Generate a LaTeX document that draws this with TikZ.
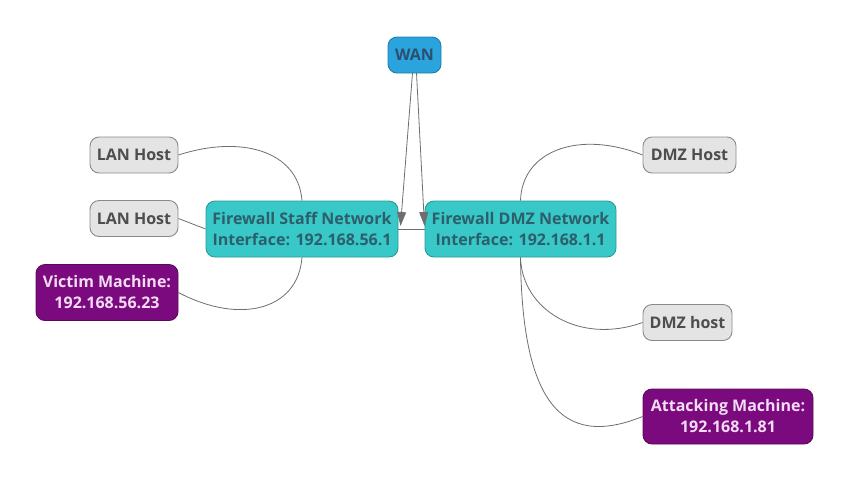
\documentclass[tikz,border=0pt]{standalone}
\usepackage{fontspec}
\setmainfont{Open Sans}[BoldFont={Open Sans Bold}]
\usetikzlibrary{arrows.meta}
\definecolor{wanfill}{HTML}{2BA3DC}
\definecolor{wanline}{HTML}{1F7DAA}
\definecolor{wantext}{HTML}{2A4F6F}
\definecolor{fwfill}{HTML}{38C8C8}
\definecolor{fwline}{HTML}{2A9A9A}
\definecolor{fwtext}{HTML}{2D5E6B}
\definecolor{hostfill}{HTML}{E4E4E4}
\definecolor{hostline}{HTML}{8A8A8A}
\definecolor{hosttext}{HTML}{4D4D4D}
\definecolor{purpfill}{HTML}{7B0A7E}
\definecolor{purpline}{HTML}{5A0A5A}
\definecolor{purptext}{HTML}{F5DCF5}
\definecolor{edgecol}{HTML}{6E6E6E}
\tikzset{
  base/.style={rounded corners=9pt, line width=0.9pt, font=\bfseries\fontsize{16}{21}\selectfont, align=center, inner sep=0pt},
  wanbox/.style={base, fill=wanfill, draw=wanline, text=wantext, minimum width=53pt, minimum height=36pt},
  fwbox/.style={base, fill=fwfill, draw=fwline, text=fwtext, minimum width=192pt, minimum height=56pt},
  hostbox/.style={base, fill=hostfill, draw=hostline, text=hosttext, minimum height=36pt},
  purpbox/.style={base, fill=purpfill, draw=purpline, text=purptext, minimum height=56pt},
  conn/.style={draw=edgecol, line width=0.8pt},
  tip/.style={conn, -{Triangle[length=14pt, width=9pt]}}
}
\begin{document}
\begin{tikzpicture}[x=1pt, y=-1pt]
\useasboundingbox (0,0) rectangle (850,483);
\node[wanbox] (wan) at (414.5,55) {WAN};
\node[fwbox] (staff) at (302,229) {Firewall Staff Network\\Interface: 192.168.56.1};
\node[fwbox, minimum width=191pt] (dmz) at (520.5,229) {Firewall DMZ Network\\Interface: 192.168.1.1};
\node[hostbox, minimum width=88pt] (lan1) at (134,155) {LAN Host};
\node[hostbox, minimum width=88pt] (lan2) at (134,218.5) {LAN Host};
\node[purpbox, minimum width=142pt] (victim) at (107,292.5) {Victim Machine:\\192.168.56.23};
\node[hostbox, minimum width=93pt] (dmzh1) at (689.5,155) {DMZ Host};
\node[hostbox, minimum width=89pt] (dmzh2) at (687.5,322.5) {DMZ host};
\node[purpbox, minimum width=170pt, minimum height=55pt] (attack) at (728,416.5) {Attacking Machine:\\192.168.1.81};
% arrow targets
\coordinate (staffin) at (400.5,226);
\coordinate (dmzin) at (424.5,226);
\coordinate (wanl) at (412.5,73);
\coordinate (wanr) at (416.5,73);
\draw[tip] (wanl) -- (staffin);
\draw[tip] (wanr) -- (dmzin);
\draw[conn] (staff.east) -- (dmz.west);
% left side
\draw[conn] (lan1.east) .. controls (240,135) and (298,150) .. (staff.north);
\draw[conn] (lan2.east) -- (staff.west);
\draw[conn] (victim.east) .. controls (240,325) and (298,310) .. (staff.south);
% right side
\draw[conn] (dmz.north) .. controls (522,150) and (580,130) .. (dmzh1.west);
\draw[conn] (dmz.south) .. controls (522,310) and (580,345) .. (dmzh2.west);
\draw[conn] (dmz.south) .. controls (522,400) and (560,450) .. (attack.west);
\end{tikzpicture}
\end{document}
